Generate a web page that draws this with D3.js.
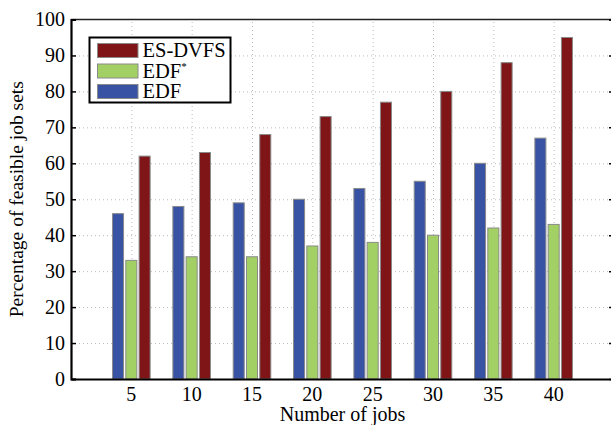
<!DOCTYPE html>
<html>
<head>
<meta charset="utf-8">
<script src="https://cdn.jsdelivr.net/npm/d3@7"></script>
<style>
  body { margin: 0; background: #fff; }
  svg { display: block; font-family: "Liberation Serif", "DejaVu Serif", serif; }
  .grid line { stroke: #bbb; stroke-dasharray: 1,3; }
  .grid path { display: none; }
</style>
</head>
<body>
<svg id="chart" width="611" height="425"></svg>
<script>
let jobs = [5, 10, 15, 20, 25, 30, 35, 40]
let edf = [46, 48, 49, 50, 53, 55, 60, 67]
let edf_star = [33, 34, 34, 37, 38, 40, 42, 43]
let es_dvfs = [62, 63, 68, 73, 77, 80, 88, 95]
let y_ticks = [0, 10, 20, 30, 40, 50, 60, 70, 80, 90, 100]

let series = [
  {key: "EDF", values: edf, color: "#3953a4"},
  {key: "EDF*", values: edf_star, color: "#a2d065"},
  {key: "ES-DVFS", values: es_dvfs, color: "#7f1517"}
]

let margin = {top: 19.5, right: -3, bottom: 46, left: 71},
  width = 611, height = 425

let scales = {
  x: d3.scaleLinear()
    .domain([0, 45])
    .range([margin.left, width - margin.right]),
  y: d3.scaleLinear()
    .domain([0, 100])
    .range([height - margin.bottom, margin.top]),
  offset: d3.scaleBand()
    .domain(series.map(d => d.key))
    .range([-18.8, 18.8])
    .paddingInner(0.17)
}

let svg = d3.select("#chart")

// dotted grid
svg.append("g")
  .attr("class", "grid")
  .attr("transform", `translate(${margin.left}, 0)`)
  .call(d3.axisLeft(scales.y).tickValues(y_ticks.slice(1, -1))
    .tickSize(-(scales.x.range()[1] - margin.left)).tickFormat(""))

svg.append("g")
  .attr("class", "grid")
  .attr("transform", `translate(0, ${scales.y(0)})`)
  .call(d3.axisBottom(scales.x).tickValues(jobs)
    .tickSize(-(scales.y(0) - margin.top)).tickFormat(""))

// bars
svg.append("g")
  .selectAll("g")
  .data(series).enter()
  .append("g")
  .attr("fill", d => d.color)
  .selectAll("rect")
  .data(d => d.values.map((v, i) => ({key: d.key, job: jobs[i], value: v}))).enter()
  .append("rect")
  .attr("x", d => scales.x(d.job) + scales.offset(d.key))
  .attr("y", d => scales.y(d.value))
  .attr("width", scales.offset.bandwidth())
  .attr("height", d => scales.y(0) - scales.y(d.value))
  .attr("stroke", "#8a8a8a")
  .attr("stroke-width", 1)

// frame
svg.append("line")
  .attr("x1", margin.left).attr("x2", width)
  .attr("y1", margin.top).attr("y2", margin.top)
  .attr("stroke", "#222").attr("stroke-width", 1.5)

let y_axis = svg.append("g")
  .attr("transform", `translate(${margin.left}, 0)`)
  .call(d3.axisRight(scales.y).tickValues(y_ticks).tickSize(5).tickFormat(""))
y_axis.select(".domain").attr("stroke-width", 2.2)
y_axis.selectAll(".tick line").attr("stroke-width", 1.5)

svg.append("g")
  .attr("transform", `translate(${scales.x.range()[1]}, 0)`)
  .call(d3.axisLeft(scales.y).tickValues(y_ticks).tickSize(5).tickFormat(""))
  .selectAll(".tick line").attr("stroke-width", 1.5)

svg.append("g")
  .selectAll("text")
  .data(y_ticks).enter()
  .append("text")
  .attr("x", margin.left - 6)
  .attr("y", d => scales.y(d) + 6.5)
  .attr("text-anchor", "end")
  .attr("font-size", 20)
  .text(d => d)

let x_axis = svg.append("g")
  .attr("transform", `translate(0, ${scales.y(0)})`)
  .call(d3.axisBottom(scales.x).tickValues([]).tickSizeOuter(0))
x_axis.select(".domain").attr("stroke-width", 2.2)

svg.append("g")
  .selectAll("text")
  .data(jobs).enter()
  .append("text")
  .attr("x", d => scales.x(d))
  .attr("y", 401)
  .attr("text-anchor", "middle")
  .attr("font-size", 20)
  .text(d => d)

// axis titles
svg.append("text")
  .attr("x", (margin.left + scales.x.range()[1]) / 2)
  .attr("y", 421)
  .attr("text-anchor", "middle")
  .attr("font-size", 20)
  .text("Number of jobs")

svg.append("text")
  .attr("transform", `translate(23, ${(scales.y(0) + margin.top) / 2}) rotate(-90)`)
  .attr("text-anchor", "middle")
  .attr("font-size", 19.5)
  .text("Percentage of feasible job sets")

// legend
let legend = svg.append("g").attr("transform", "translate(89.5, 37.5)")
legend.append("rect")
  .attr("width", 141).attr("height", 65)
  .attr("fill", "#fff").attr("stroke", "#000").attr("stroke-width", 2)

let rows = legend.selectAll("g")
  .data(series.slice().reverse()).enter()
  .append("g")
  .attr("transform", (d, i) => `translate(8, ${6 + i * 20.5})`)
rows.append("rect")
  .attr("width", 40.5).attr("height", 14)
  .attr("fill", d => d.color)
  .attr("stroke", "#8a8a8a")
let labels = rows.append("text")
  .attr("x", 45).attr("y", 13.5)
  .attr("font-size", 20.5)
labels.append("tspan").text(d => d.key.replace("*", ""))
labels.filter(d => d.key.endsWith("*"))
  .append("tspan")
  .attr("dy", -8).attr("font-size", 11)
  .text("*")
</script>
</body>
</html>
